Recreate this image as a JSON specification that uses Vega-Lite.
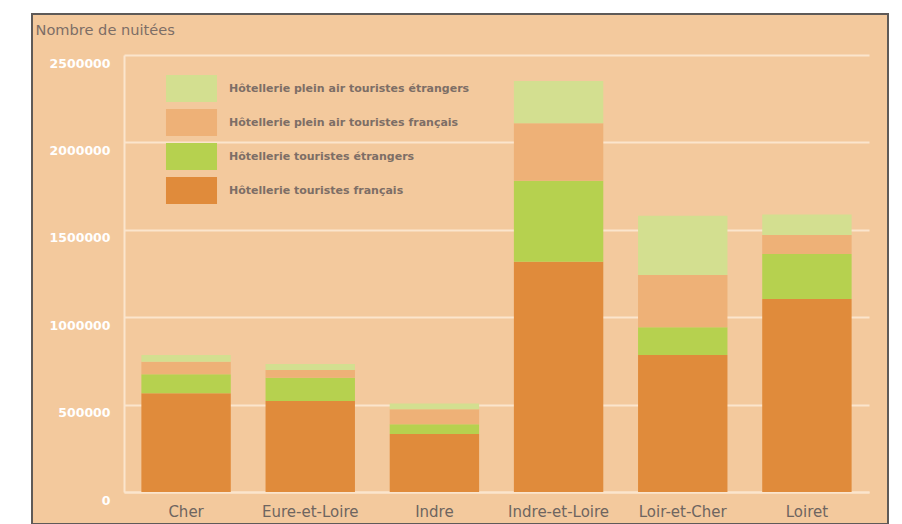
{
  "$schema": "https://vega.github.io/schema/vega-lite/v6.json",
  "width": 856,
  "height": 510,
  "autosize": {"type": "none"},
  "padding": {"left": 32, "top": 14, "right": 14, "bottom": 0},
  "background": "#ffffff",
  "config": {
    "view": {"fill": "#f3c99d", "stroke": "#5e5a58", "strokeWidth": 2},
    "font": "DejaVu Sans"
  },
  "data": {
    "values": [
      {"dep": "Cher", "serie": "Hôtellerie touristes français", "rang": 1, "nuitees": 565000},
      {"dep": "Cher", "serie": "Hôtellerie touristes étrangers", "rang": 2, "nuitees": 108000},
      {"dep": "Cher", "serie": "Hôtellerie plein air touristes français", "rang": 3, "nuitees": 72000},
      {"dep": "Cher", "serie": "Hôtellerie plein air touristes étrangers", "rang": 4, "nuitees": 39000},
      {"dep": "Eure-et-Loire", "serie": "Hôtellerie touristes français", "rang": 1, "nuitees": 520000},
      {"dep": "Eure-et-Loire", "serie": "Hôtellerie touristes étrangers", "rang": 2, "nuitees": 134000},
      {"dep": "Eure-et-Loire", "serie": "Hôtellerie plein air touristes français", "rang": 3, "nuitees": 44000},
      {"dep": "Eure-et-Loire", "serie": "Hôtellerie plein air touristes étrangers", "rang": 4, "nuitees": 34000},
      {"dep": "Indre", "serie": "Hôtellerie touristes français", "rang": 1, "nuitees": 332000},
      {"dep": "Indre", "serie": "Hôtellerie touristes étrangers", "rang": 2, "nuitees": 55000},
      {"dep": "Indre", "serie": "Hôtellerie plein air touristes français", "rang": 3, "nuitees": 86000},
      {"dep": "Indre", "serie": "Hôtellerie plein air touristes étrangers", "rang": 4, "nuitees": 34000},
      {"dep": "Indre-et-Loire", "serie": "Hôtellerie touristes français", "rang": 1, "nuitees": 1317000},
      {"dep": "Indre-et-Loire", "serie": "Hôtellerie touristes étrangers", "rang": 2, "nuitees": 464000},
      {"dep": "Indre-et-Loire", "serie": "Hôtellerie plein air touristes français", "rang": 3, "nuitees": 328000},
      {"dep": "Indre-et-Loire", "serie": "Hôtellerie plein air touristes étrangers", "rang": 4, "nuitees": 242000},
      {"dep": "Loir-et-Cher", "serie": "Hôtellerie touristes français", "rang": 1, "nuitees": 784000},
      {"dep": "Loir-et-Cher", "serie": "Hôtellerie touristes étrangers", "rang": 2, "nuitees": 158000},
      {"dep": "Loir-et-Cher", "serie": "Hôtellerie plein air touristes français", "rang": 3, "nuitees": 299000},
      {"dep": "Loir-et-Cher", "serie": "Hôtellerie plein air touristes étrangers", "rang": 4, "nuitees": 339000},
      {"dep": "Loiret", "serie": "Hôtellerie touristes français", "rang": 1, "nuitees": 1104000},
      {"dep": "Loiret", "serie": "Hôtellerie touristes étrangers", "rang": 2, "nuitees": 257000},
      {"dep": "Loiret", "serie": "Hôtellerie plein air touristes français", "rang": 3, "nuitees": 109000},
      {"dep": "Loiret", "serie": "Hôtellerie plein air touristes étrangers", "rang": 4, "nuitees": 118000}
    ]
  },
  "mark": {"type": "bar"},
  "encoding": {
    "x": {
      "field": "dep",
      "type": "nominal",
      "sort": null,
      "scale": {"range": [92, 837], "paddingInner": 0.28, "paddingOuter": 0.14},
      "axis": {
        "orient": "bottom",
        "offset": -32,
        "title": null,
        "labelAngle": 0,
        "domainColor": "#fbe5cd",
        "domainWidth": 2,
        "ticks": false,
        "grid": false,
        "labelColor": "#6e6560",
        "labelFont": "DejaVu Sans",
        "labelFontSize": 15,
        "labelPadding": 12
      }
    },
    "y": {
      "field": "nuitees",
      "type": "quantitative",
      "stack": "zero",
      "scale": {"domain": [0, 2500000], "range": [478, 41], "nice": false},
      "axis": {
        "orient": "left",
        "offset": -92,
        "values": [0, 500000, 1000000, 1500000, 2000000, 2500000],
        "format": "d",
        "domainColor": "#fbe5cd",
        "domainWidth": 2,
        "ticks": false,
        "grid": true,
        "gridColor": "#fbe5cd",
        "gridWidth": 2,
        "labelColor": "#ffffff",
        "labelFont": "DejaVu Sans",
        "labelFontSize": 12.5,
        "labelFontWeight": "bold",
        "labelPadding": 14,
        "labelOffset": 8,
        "labelFlush": false,
        "title": "Nombre de nuitées",
        "titleAngle": 0,
        "titleX": -89,
        "titleY": 16,
        "titleAlign": "left",
        "titleBaseline": "middle",
        "titleFont": "DejaVu Sans",
        "titleFontSize": 14.6,
        "titleFontWeight": "normal",
        "titleColor": "#7d6e66"
      }
    },
    "color": {
      "field": "serie",
      "type": "nominal",
      "scale": {
        "domain": [
          "Hôtellerie plein air touristes étrangers",
          "Hôtellerie plein air touristes français",
          "Hôtellerie touristes étrangers",
          "Hôtellerie touristes français"
        ],
        "range": ["#d3df90", "#eeb177", "#b6d14f", "#e08b3b"]
      },
      "legend": {
        "orient": "none",
        "legendX": 146,
        "legendY": 61,
        "title": null,
        "padding": 0,
        "symbolType": "M-1.89,-1L1.89,-1L1.89,1L-1.89,1Z",
        "symbolSize": 729,
        "symbolStrokeWidth": 0,
        "symbolOpacity": 1,
        "labelOffset": 24,
        "rowPadding": 7,
        "labelFont": "DejaVu Sans",
        "labelFontSize": 11,
        "labelFontWeight": "bold",
        "labelColor": "#7d6e66",
        "labelLimit": 400
      }
    },
    "order": {"field": "rang", "type": "quantitative", "sort": "ascending"}
  }
}
